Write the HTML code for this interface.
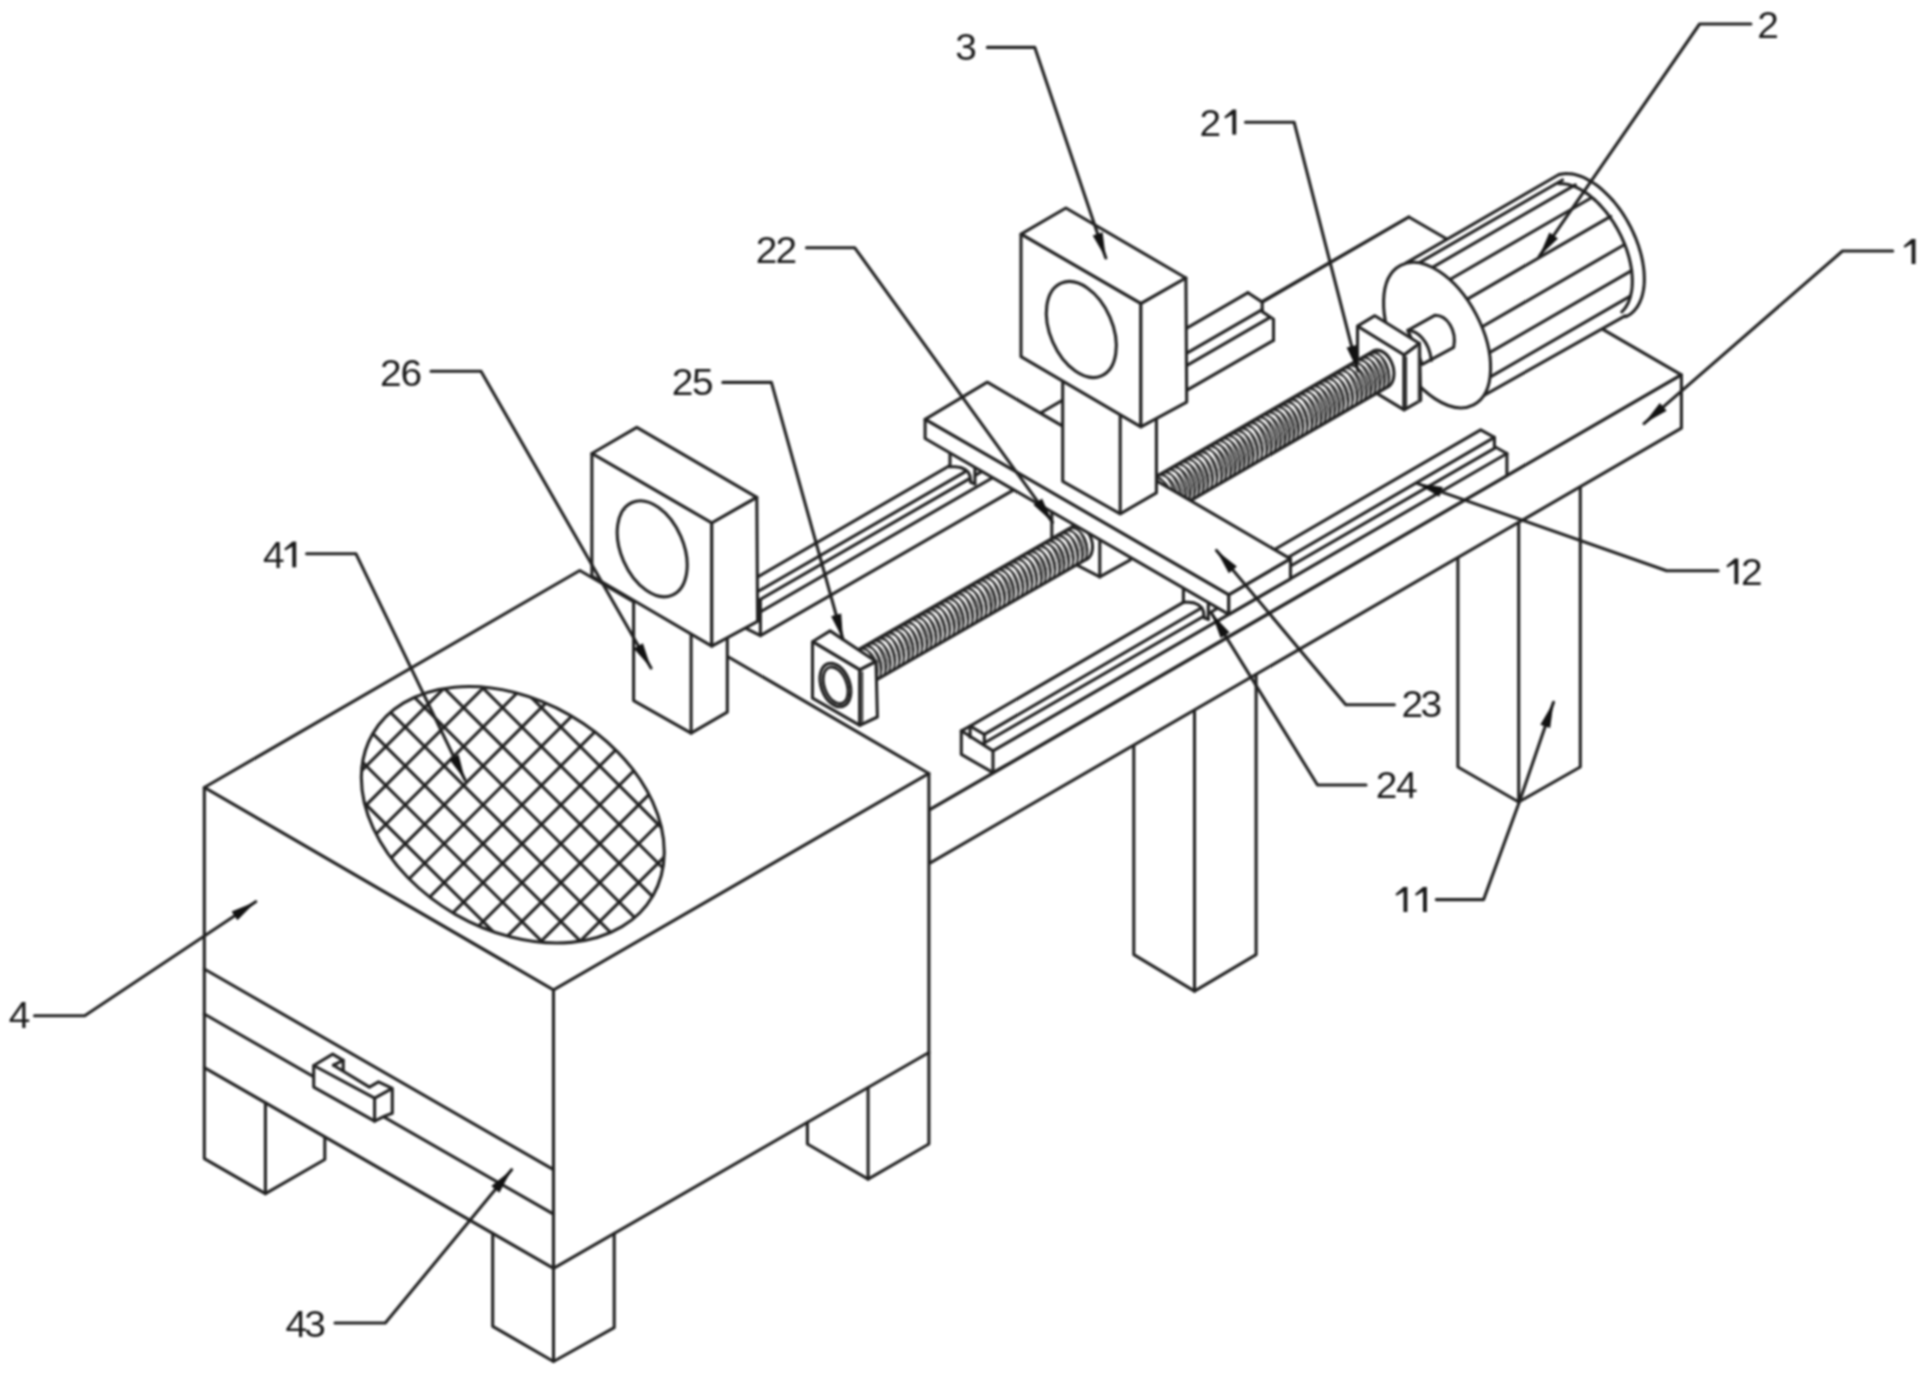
<!DOCTYPE html>
<html><head><meta charset="utf-8"><style>html,body{margin:0;padding:0;background:#fff;overflow:hidden}svg{display:block;filter:blur(1.1px)}</style></head>
<body>
<svg width="1925" height="1375" viewBox="0 0 1925 1375" stroke-linejoin="round" stroke-linecap="round">
<polyline points="1133.8,745.1 1133.8,954.7 1194.5,991.2 1256.1,954.7 1256.1,674.3" fill="none" stroke="#222" stroke-width="3.1"/>
<polyline points="1194.5,710.0 1194.5,991.2" fill="none" stroke="#222" stroke-width="3.1"/>
<polyline points="1457.9,557.5 1457.9,767.0 1518.7,802.0 1580.3,767.0 1580.3,486.7" fill="none" stroke="#222" stroke-width="3.1"/>
<polyline points="1518.7,522.4 1518.7,802.0" fill="none" stroke="#222" stroke-width="3.1"/>
<polygon points="656.4,650.8 1408.8,217.0 1681.4,374.8 929.0,810.2" fill="#fff" stroke="#222" stroke-width="3.1"/>
<polygon points="929.0,810.2 1681.4,374.8 1681.4,428.2 929.0,863.6" fill="#fff" stroke="#222" stroke-width="3.1"/>
<polygon points="757.0,577.3 1248.0,292.7 1262.2,302.1 1262.2,311.6 1273.5,319.2 1273.5,340.4 757.0,635.6" fill="#fff" stroke="none"/>
<polyline points="757.0,577.3 1248.0,292.7" fill="none" stroke="#222" stroke-width="3.1"/>
<polyline points="757.0,601.4 1262.2,309.6" fill="none" stroke="#222" stroke-width="3.1"/>
<polyline points="757.0,613.8 1268.8,318.2" fill="none" stroke="#222" stroke-width="3.1"/>
<polyline points="760.4,635.6 1273.5,340.4" fill="none" stroke="#222" stroke-width="3.1"/>
<polyline points="757.0,592.0 965.0,471.9" fill="none" stroke="#222" stroke-width="3.1"/>
<polyline points="1248.0,292.7 1262.2,302.1 1262.2,311.6 1273.5,319.2 1273.5,340.4" fill="none" stroke="#222" stroke-width="3.1"/>
<polyline points="744.4,627.6 760.4,635.6 760.4,600.0" fill="none" stroke="#222" stroke-width="3.1"/>
<polyline points="1262.2,302.1 1408.8,217.0" fill="none" stroke="#222" stroke-width="3.1"/>
<polygon points="1399.8,265.8 1559.4,174.6 1561.6,174.1 1563.9,173.7 1566.3,173.6 1568.8,173.7 1571.3,173.9 1573.9,174.3 1576.5,175.0 1579.1,175.8 1581.8,176.7 1584.5,177.9 1587.2,179.3 1589.9,180.8 1592.6,182.5 1595.4,184.3 1598.1,186.3 1600.8,188.5 1603.4,190.8 1606.0,193.3 1608.6,195.9 1611.2,198.6 1613.7,201.4 1616.1,204.4 1618.5,207.5 1620.8,210.7 1623.0,213.9 1625.1,217.3 1627.2,220.7 1629.1,224.2 1631.0,227.8 1632.7,231.4 1634.3,235.0 1635.9,238.7 1637.3,242.4 1638.6,246.1 1639.7,249.8 1640.8,253.4 1641.7,257.1 1642.5,260.8 1643.1,264.4 1643.6,267.9 1644.0,271.4 1644.2,274.9 1644.3,278.2 1644.3,281.5 1644.1,284.7 1643.8,287.8 1643.3,290.8 1642.7,293.6 1642.0,296.4 1641.1,299.0 1640.1,301.5 1639.0,303.8 1637.8,306.0 1636.4,308.0 1634.9,309.9 1633.3,311.6 1631.6,313.2 1629.8,314.5 1627.9,315.7 1625.9,316.7 1472.9,401.6" fill="#fff" stroke="none"/>
<polyline points="1559.4,174.6 1561.6,174.1 1563.9,173.7 1566.3,173.6 1568.8,173.7 1571.3,173.9 1573.9,174.3 1576.5,175.0 1579.1,175.8 1581.8,176.7 1584.5,177.9 1587.2,179.3 1589.9,180.8 1592.6,182.5 1595.4,184.3 1598.1,186.3 1600.8,188.5 1603.4,190.8 1606.0,193.3 1608.6,195.9 1611.2,198.6 1613.7,201.4 1616.1,204.4 1618.5,207.5 1620.8,210.7 1623.0,213.9 1625.1,217.3 1627.2,220.7 1629.1,224.2 1631.0,227.8 1632.7,231.4 1634.3,235.0 1635.9,238.7 1637.3,242.4 1638.6,246.1 1639.7,249.8 1640.8,253.4 1641.7,257.1 1642.5,260.8 1643.1,264.4 1643.6,267.9 1644.0,271.4 1644.2,274.9 1644.3,278.2 1644.3,281.5 1644.1,284.7 1643.8,287.8 1643.3,290.8 1642.7,293.6 1642.0,296.4 1641.1,299.0 1640.1,301.5 1639.0,303.8 1637.8,306.0 1636.4,308.0 1634.9,309.9 1633.3,311.6 1631.6,313.2 1629.8,314.5 1627.9,315.7 1625.9,316.7" fill="none" stroke="#222" stroke-width="3.1"/>
<polyline points="1558.7,183.7 1560.7,183.6 1562.7,183.7 1564.8,183.9 1567.0,184.3 1569.1,184.8 1571.3,185.4 1573.5,186.2 1575.8,187.1 1578.0,188.2 1580.3,189.3 1582.6,190.7 1584.8,192.1 1587.1,193.6 1589.3,195.3 1591.6,197.1 1593.8,199.0 1596.0,201.0 1598.2,203.1 1600.3,205.4 1602.4,207.7 1604.4,210.1 1606.5,212.5 1608.4,215.1 1610.3,217.8 1612.2,220.5 1614.0,223.2 1615.7,226.1 1617.4,229.0 1618.9,231.9 1620.5,234.9 1621.9,237.9 1623.2,240.9 1624.5,243.9 1625.7,247.0 1626.8,250.1 1627.8,253.2 1628.7,256.2 1629.5,259.3 1630.2,262.3 1630.8,265.4 1631.3,268.3 1631.7,271.3 1632.0,274.2 1632.2,277.1 1632.3,279.9 1632.3,282.6 1632.2,285.3 1632.0,287.9 1631.7,290.5 1631.2,292.9 1630.7,295.3 1630.1,297.6 1629.4,299.7 1628.6,301.8 1627.7,303.8 1626.7,305.6 1625.6,307.4 1624.4,309.0 1623.1,310.5 1621.8,311.9" fill="none" stroke="#222" stroke-width="3.1"/>
<polyline points="1406.2,262.9 1559.0,174.5" fill="none" stroke="#222" stroke-width="3.1"/>
<polyline points="1472.9,401.6 1625.1,315.8" fill="none" stroke="#222" stroke-width="3.1"/>
<polyline points="1408.0,269.2 1562.5,180.0" fill="none" stroke="#222" stroke-width="3.1"/>
<polyline points="1426.0,271.1 1575.3,184.9" fill="none" stroke="#222" stroke-width="3.1"/>
<polyline points="1443.0,283.5 1591.0,198.0" fill="none" stroke="#222" stroke-width="3.1"/>
<polyline points="1458.7,304.1 1610.7,216.3" fill="none" stroke="#222" stroke-width="3.1"/>
<polyline points="1473.1,332.0 1623.8,245.0" fill="none" stroke="#222" stroke-width="3.1"/>
<polyline points="1478.3,359.1 1631.6,270.6" fill="none" stroke="#222" stroke-width="3.1"/>
<polyline points="1478.3,383.9 1630.3,296.1" fill="none" stroke="#222" stroke-width="3.1"/>
<ellipse cx="1437.1" cy="335.1" rx="44.2" ry="78.7" transform="rotate(-27.6 1437.1 335.1)" fill="#fff" stroke="#222" stroke-width="3.1"/>
<path d="M1407.9,330.3 L1434.7,315.3 C1447,315 1457,330 1453.7,347.3 L1422.3,364.3 Z" fill="#fff" stroke="#222" stroke-width="3.1"/>
<path d="M1407.9,330.3 C1417,331 1429,340 1431.4,360.4" fill="none" stroke="#222" stroke-width="3.1"/>
<polygon points="1357.5,326.2 1374.9,315.7 1419.5,343.5 1404.1,355.0" fill="#fff" stroke="#222" stroke-width="3.1"/>
<polygon points="1357.5,326.2 1404.1,355.0 1404.1,409.8 1357.5,381.7" fill="#fff" stroke="#222" stroke-width="3.1"/>
<polygon points="1404.1,355.0 1419.5,343.5 1420.7,400.4 1404.1,409.8" fill="#fff" stroke="#222" stroke-width="3.1"/>
<polyline points="1406.3,357.0 1406.3,408.0" fill="none" stroke="#222" stroke-width="1.6"/>
<polyline points="1418.3,346.0 1418.3,402.0" fill="none" stroke="#555" stroke-width="1.4"/>
<polygon points="961.3,730.8 970.1,726.2 1480.7,429.8 1494.4,437.3 1494.4,446.5 1506.9,453.5 1506.9,475.6 993.0,772.7 961.3,754.4" fill="#fff" stroke="#222" stroke-width="3.1"/>
<polyline points="961.3,730.8 993.0,750.9 993.0,772.7" fill="none" stroke="#222" stroke-width="3.1"/>
<polyline points="970.1,726.2 970.1,737.2" fill="none" stroke="#222" stroke-width="3.1"/>
<polyline points="970.1,726.2 984.3,734.3 984.3,743.0" fill="none" stroke="#222" stroke-width="3.1"/>
<polyline points="984.3,734.3 1494.4,437.3" fill="none" stroke="#222" stroke-width="3.1"/>
<polyline points="984.3,743.0 1494.4,448.4" fill="none" stroke="#222" stroke-width="3.1"/>
<polyline points="993.0,750.9 1506.9,453.5" fill="none" stroke="#222" stroke-width="3.1"/>
<polygon points="950.0,441.7 950.0,466.7 955.0,466.8 960.6,467.5 965.0,469.5 968.3,472.3 970.0,476.0 970.8,482.4 974.9,484.0 974.9,461.7" fill="#fff" stroke="none"/>
<polyline points="950.0,441.7 950.0,466.7" fill="none" stroke="#222" stroke-width="3.1"/>
<polyline points="950.0,466.7 955.0,466.8 960.6,467.5 965.0,469.5 968.3,472.3 970.0,476.0 970.8,482.4" fill="none" stroke="#222" stroke-width="3.1"/>
<polyline points="970.8,482.4 974.9,484.0" fill="none" stroke="#222" stroke-width="3.1"/>
<polyline points="974.9,484.0 974.9,468.7" fill="none" stroke="#222" stroke-width="3.1"/>
<polygon points="1183.4,577.1 1183.4,602.1 1188.4,602.2 1194.0,602.9 1198.4,604.9 1201.7,607.7 1203.4,611.4 1204.2,617.8 1208.3,619.4 1208.3,597.1" fill="#fff" stroke="none"/>
<polyline points="1183.4,577.1 1183.4,602.1" fill="none" stroke="#222" stroke-width="3.1"/>
<polyline points="1183.4,602.1 1188.4,602.2 1194.0,602.9 1198.4,604.9 1201.7,607.7 1203.4,611.4 1204.2,617.8" fill="none" stroke="#222" stroke-width="3.1"/>
<polyline points="1204.2,617.8 1208.3,619.4" fill="none" stroke="#222" stroke-width="3.1"/>
<polyline points="1208.3,619.4 1208.3,604.1" fill="none" stroke="#222" stroke-width="3.1"/>
<polygon points="1051.8,510.0 1051.8,537.3 1076.5,564.9 1099.8,576.9 1130.4,559.8 1130.4,540.0" fill="#fff" stroke="#222" stroke-width="3.1"/>
<polyline points="1099.8,540.2 1099.8,576.9" fill="none" stroke="#222" stroke-width="3.1"/>
<polygon points="1147.4,481.6 1373.4,351.1 1388.6,386.3 1162.6,516.8" fill="#fff" stroke="none"/>
<path d="M1147.4,481.6 A12.7,19.3 -18 0 1 1162.6,516.8 M1151.9,479.0 A12.7,19.3 -18 0 1 1167.1,514.2 M1156.5,476.3 A12.7,19.3 -18 0 1 1171.6,511.6 M1161.0,473.7 A12.7,19.3 -18 0 1 1176.1,509.0 M1165.5,471.1 A12.7,19.3 -18 0 1 1180.7,506.4 M1170.0,468.5 A12.7,19.3 -18 0 1 1185.2,503.8 M1174.5,465.9 A12.7,19.3 -18 0 1 1189.7,501.2 M1179.1,463.3 A12.7,19.3 -18 0 1 1194.2,498.6 M1183.6,460.7 A12.7,19.3 -18 0 1 1198.7,496.0 M1188.1,458.1 A12.7,19.3 -18 0 1 1203.3,493.3 M1192.6,455.5 A12.7,19.3 -18 0 1 1207.8,490.7 M1197.1,452.9 A12.7,19.3 -18 0 1 1212.3,488.1 M1201.7,450.2 A12.7,19.3 -18 0 1 1216.8,485.5 M1206.2,447.6 A12.7,19.3 -18 0 1 1221.3,482.9 M1210.7,445.0 A12.7,19.3 -18 0 1 1225.9,480.3 M1215.2,442.4 A12.7,19.3 -18 0 1 1230.4,477.7 M1219.7,439.8 A12.7,19.3 -18 0 1 1234.9,475.1 M1224.3,437.2 A12.7,19.3 -18 0 1 1239.4,472.5 M1228.8,434.6 A12.7,19.3 -18 0 1 1243.9,469.9 M1233.3,432.0 A12.7,19.3 -18 0 1 1248.5,467.2 M1237.8,429.4 A12.7,19.3 -18 0 1 1253.0,464.6 M1242.3,426.8 A12.7,19.3 -18 0 1 1257.5,462.0 M1246.9,424.1 A12.7,19.3 -18 0 1 1262.0,459.4 M1251.4,421.5 A12.7,19.3 -18 0 1 1266.5,456.8 M1255.9,418.9 A12.7,19.3 -18 0 1 1271.1,454.2 M1260.4,416.3 A12.7,19.3 -18 0 1 1275.6,451.6 M1264.9,413.7 A12.7,19.3 -18 0 1 1280.1,449.0 M1269.5,411.1 A12.7,19.3 -18 0 1 1284.6,446.4 M1274.0,408.5 A12.7,19.3 -18 0 1 1289.1,443.8 M1278.5,405.9 A12.7,19.3 -18 0 1 1293.7,441.1 M1283.0,403.3 A12.7,19.3 -18 0 1 1298.2,438.5 M1287.5,400.7 A12.7,19.3 -18 0 1 1302.7,435.9 M1292.1,398.0 A12.7,19.3 -18 0 1 1307.2,433.3 M1296.6,395.4 A12.7,19.3 -18 0 1 1311.7,430.7 M1301.1,392.8 A12.7,19.3 -18 0 1 1316.3,428.1 M1305.6,390.2 A12.7,19.3 -18 0 1 1320.8,425.5 M1310.1,387.6 A12.7,19.3 -18 0 1 1325.3,422.9 M1314.7,385.0 A12.7,19.3 -18 0 1 1329.8,420.3 M1319.2,382.4 A12.7,19.3 -18 0 1 1334.3,417.7 M1323.7,379.8 A12.7,19.3 -18 0 1 1338.9,415.0 M1328.2,377.2 A12.7,19.3 -18 0 1 1343.4,412.4 M1332.7,374.6 A12.7,19.3 -18 0 1 1347.9,409.8 M1337.3,371.9 A12.7,19.3 -18 0 1 1352.4,407.2 M1341.8,369.3 A12.7,19.3 -18 0 1 1356.9,404.6 M1346.3,366.7 A12.7,19.3 -18 0 1 1361.5,402.0 M1350.8,364.1 A12.7,19.3 -18 0 1 1366.0,399.4 M1355.3,361.5 A12.7,19.3 -18 0 1 1370.5,396.8 M1359.9,358.9 A12.7,19.3 -18 0 1 1375.0,394.2 M1364.4,356.3 A12.7,19.3 -18 0 1 1379.5,391.6 M1368.9,353.7 A12.7,19.3 -18 0 1 1384.1,388.9 M1373.4,351.1 A12.7,19.3 -18 0 1 1388.6,386.3" fill="none" stroke="#222" stroke-width="1.8"/>
<path d="M1149.7,480.3 A7.6,19.3 -18 0 1 1164.8,515.5 M1154.2,477.7 A7.6,19.3 -18 0 1 1169.4,512.9 M1158.7,475.0 A7.6,19.3 -18 0 1 1173.9,510.3 M1163.2,472.4 A7.6,19.3 -18 0 1 1178.4,507.7 M1167.8,469.8 A7.6,19.3 -18 0 1 1182.9,505.1 M1172.3,467.2 A7.6,19.3 -18 0 1 1187.4,502.5 M1176.8,464.6 A7.6,19.3 -18 0 1 1192.0,499.9 M1181.3,462.0 A7.6,19.3 -18 0 1 1196.5,497.3 M1185.8,459.4 A7.6,19.3 -18 0 1 1201.0,494.6 M1190.4,456.8 A7.6,19.3 -18 0 1 1205.5,492.0 M1194.9,454.2 A7.6,19.3 -18 0 1 1210.0,489.4 M1199.4,451.6 A7.6,19.3 -18 0 1 1214.6,486.8 M1203.9,448.9 A7.6,19.3 -18 0 1 1219.1,484.2 M1208.4,446.3 A7.6,19.3 -18 0 1 1223.6,481.6 M1213.0,443.7 A7.6,19.3 -18 0 1 1228.1,479.0 M1217.5,441.1 A7.6,19.3 -18 0 1 1232.6,476.4 M1222.0,438.5 A7.6,19.3 -18 0 1 1237.2,473.8 M1226.5,435.9 A7.6,19.3 -18 0 1 1241.7,471.2 M1231.0,433.3 A7.6,19.3 -18 0 1 1246.2,468.5 M1235.6,430.7 A7.6,19.3 -18 0 1 1250.7,465.9 M1240.1,428.1 A7.6,19.3 -18 0 1 1255.2,463.3 M1244.6,425.5 A7.6,19.3 -18 0 1 1259.8,460.7 M1249.1,422.8 A7.6,19.3 -18 0 1 1264.3,458.1 M1253.6,420.2 A7.6,19.3 -18 0 1 1268.8,455.5 M1258.2,417.6 A7.6,19.3 -18 0 1 1273.3,452.9 M1262.7,415.0 A7.6,19.3 -18 0 1 1277.8,450.3 M1267.2,412.4 A7.6,19.3 -18 0 1 1282.4,447.7 M1271.7,409.8 A7.6,19.3 -18 0 1 1286.9,445.1 M1276.2,407.2 A7.6,19.3 -18 0 1 1291.4,442.4 M1280.8,404.6 A7.6,19.3 -18 0 1 1295.9,439.8 M1285.3,402.0 A7.6,19.3 -18 0 1 1300.4,437.2 M1289.8,399.4 A7.6,19.3 -18 0 1 1305.0,434.6 M1294.3,396.7 A7.6,19.3 -18 0 1 1309.5,432.0 M1298.8,394.1 A7.6,19.3 -18 0 1 1314.0,429.4 M1303.4,391.5 A7.6,19.3 -18 0 1 1318.5,426.8 M1307.9,388.9 A7.6,19.3 -18 0 1 1323.0,424.2 M1312.4,386.3 A7.6,19.3 -18 0 1 1327.6,421.6 M1316.9,383.7 A7.6,19.3 -18 0 1 1332.1,419.0 M1321.4,381.1 A7.6,19.3 -18 0 1 1336.6,416.3 M1326.0,378.5 A7.6,19.3 -18 0 1 1341.1,413.7 M1330.5,375.9 A7.6,19.3 -18 0 1 1345.6,411.1 M1335.0,373.3 A7.6,19.3 -18 0 1 1350.2,408.5 M1339.5,370.6 A7.6,19.3 -18 0 1 1354.7,405.9 M1344.0,368.0 A7.6,19.3 -18 0 1 1359.2,403.3 M1348.6,365.4 A7.6,19.3 -18 0 1 1363.7,400.7 M1353.1,362.8 A7.6,19.3 -18 0 1 1368.2,398.1 M1357.6,360.2 A7.6,19.3 -18 0 1 1372.8,395.5 M1362.1,357.6 A7.6,19.3 -18 0 1 1377.3,392.9 M1366.6,355.0 A7.6,19.3 -18 0 1 1381.8,390.2 M1371.2,352.4 A7.6,19.3 -18 0 1 1386.3,387.6" fill="none" stroke="#333" stroke-width="1.8"/>
<polyline points="1147.4,481.6 1373.4,351.1" fill="none" stroke="#222" stroke-width="3.1"/>
<polyline points="1162.6,516.8 1388.6,386.3" fill="none" stroke="#222" stroke-width="3.1"/>
<path d="M1373.4,351.1 A12.7,19.3 -18 0 1 1388.6,386.3" fill="none" stroke="#222" stroke-width="3.1"/>
<polygon points="858.0,649.9 1073.0,526.4 1087.0,559.0 872.0,682.5" fill="#fff" stroke="none"/>
<path d="M858.0,649.9 A11.8,17.8 -18 0 1 872.0,682.5 M862.6,647.3 A11.8,17.8 -18 0 1 876.6,679.8 M867.1,644.7 A11.8,17.8 -18 0 1 881.2,677.2 M871.7,642.1 A11.8,17.8 -18 0 1 885.7,674.6 M876.3,639.4 A11.8,17.8 -18 0 1 890.3,671.9 M880.9,636.8 A11.8,17.8 -18 0 1 894.9,669.3 M885.4,634.2 A11.8,17.8 -18 0 1 899.4,666.7 M890.0,631.5 A11.8,17.8 -18 0 1 904.0,664.1 M894.6,628.9 A11.8,17.8 -18 0 1 908.6,661.4 M899.2,626.3 A11.8,17.8 -18 0 1 913.2,658.8 M903.7,623.7 A11.8,17.8 -18 0 1 917.7,656.2 M908.3,621.0 A11.8,17.8 -18 0 1 922.3,653.6 M912.9,618.4 A11.8,17.8 -18 0 1 926.9,650.9 M917.5,615.8 A11.8,17.8 -18 0 1 931.5,648.3 M922.0,613.2 A11.8,17.8 -18 0 1 936.0,645.7 M926.6,610.5 A11.8,17.8 -18 0 1 940.6,643.0 M931.2,607.9 A11.8,17.8 -18 0 1 945.2,640.4 M935.8,605.3 A11.8,17.8 -18 0 1 949.8,637.8 M940.3,602.6 A11.8,17.8 -18 0 1 954.3,635.2 M944.9,600.0 A11.8,17.8 -18 0 1 958.9,632.5 M949.5,597.4 A11.8,17.8 -18 0 1 963.5,629.9 M954.1,594.8 A11.8,17.8 -18 0 1 968.1,627.3 M958.6,592.1 A11.8,17.8 -18 0 1 972.6,624.7 M963.2,589.5 A11.8,17.8 -18 0 1 977.2,622.0 M967.8,586.9 A11.8,17.8 -18 0 1 981.8,619.4 M972.4,584.2 A11.8,17.8 -18 0 1 986.4,616.8 M976.9,581.6 A11.8,17.8 -18 0 1 990.9,614.1 M981.5,579.0 A11.8,17.8 -18 0 1 995.5,611.5 M986.1,576.4 A11.8,17.8 -18 0 1 1000.1,608.9 M990.7,573.7 A11.8,17.8 -18 0 1 1004.7,606.3 M995.2,571.1 A11.8,17.8 -18 0 1 1009.2,603.6 M999.8,568.5 A11.8,17.8 -18 0 1 1013.8,601.0 M1004.4,565.9 A11.8,17.8 -18 0 1 1018.4,598.4 M1009.0,563.2 A11.8,17.8 -18 0 1 1023.0,595.7 M1013.5,560.6 A11.8,17.8 -18 0 1 1027.5,593.1 M1018.1,558.0 A11.8,17.8 -18 0 1 1032.1,590.5 M1022.7,555.3 A11.8,17.8 -18 0 1 1036.7,587.9 M1027.3,552.7 A11.8,17.8 -18 0 1 1041.3,585.2 M1031.8,550.1 A11.8,17.8 -18 0 1 1045.8,582.6 M1036.4,547.5 A11.8,17.8 -18 0 1 1050.4,580.0 M1041.0,544.8 A11.8,17.8 -18 0 1 1055.0,577.4 M1045.6,542.2 A11.8,17.8 -18 0 1 1059.6,574.7 M1050.1,539.6 A11.8,17.8 -18 0 1 1064.1,572.1 M1054.7,537.0 A11.8,17.8 -18 0 1 1068.7,569.5 M1059.3,534.3 A11.8,17.8 -18 0 1 1073.3,566.8 M1063.8,531.7 A11.8,17.8 -18 0 1 1077.9,564.2 M1068.4,529.1 A11.8,17.8 -18 0 1 1082.4,561.6 M1073.0,526.4 A11.8,17.8 -18 0 1 1087.0,559.0" fill="none" stroke="#222" stroke-width="1.8"/>
<path d="M860.3,648.6 A7.0,17.8 -18 0 1 874.3,681.1 M864.9,646.0 A7.0,17.8 -18 0 1 878.9,678.5 M869.4,643.4 A7.0,17.8 -18 0 1 883.4,675.9 M874.0,640.7 A7.0,17.8 -18 0 1 888.0,673.3 M878.6,638.1 A7.0,17.8 -18 0 1 892.6,670.6 M883.2,635.5 A7.0,17.8 -18 0 1 897.2,668.0 M887.7,632.9 A7.0,17.8 -18 0 1 901.7,665.4 M892.3,630.2 A7.0,17.8 -18 0 1 906.3,662.8 M896.9,627.6 A7.0,17.8 -18 0 1 910.9,660.1 M901.5,625.0 A7.0,17.8 -18 0 1 915.5,657.5 M906.0,622.4 A7.0,17.8 -18 0 1 920.0,654.9 M910.6,619.7 A7.0,17.8 -18 0 1 924.6,652.2 M915.2,617.1 A7.0,17.8 -18 0 1 929.2,649.6 M919.8,614.5 A7.0,17.8 -18 0 1 933.8,647.0 M924.3,611.8 A7.0,17.8 -18 0 1 938.3,644.4 M928.9,609.2 A7.0,17.8 -18 0 1 942.9,641.7 M933.5,606.6 A7.0,17.8 -18 0 1 947.5,639.1 M938.1,604.0 A7.0,17.8 -18 0 1 952.1,636.5 M942.6,601.3 A7.0,17.8 -18 0 1 956.6,633.8 M947.2,598.7 A7.0,17.8 -18 0 1 961.2,631.2 M951.8,596.1 A7.0,17.8 -18 0 1 965.8,628.6 M956.3,593.4 A7.0,17.8 -18 0 1 970.4,626.0 M960.9,590.8 A7.0,17.8 -18 0 1 974.9,623.3 M965.5,588.2 A7.0,17.8 -18 0 1 979.5,620.7 M970.1,585.6 A7.0,17.8 -18 0 1 984.1,618.1 M974.6,582.9 A7.0,17.8 -18 0 1 988.7,615.5 M979.2,580.3 A7.0,17.8 -18 0 1 993.2,612.8 M983.8,577.7 A7.0,17.8 -18 0 1 997.8,610.2 M988.4,575.1 A7.0,17.8 -18 0 1 1002.4,607.6 M992.9,572.4 A7.0,17.8 -18 0 1 1006.9,604.9 M997.5,569.8 A7.0,17.8 -18 0 1 1011.5,602.3 M1002.1,567.2 A7.0,17.8 -18 0 1 1016.1,599.7 M1006.7,564.5 A7.0,17.8 -18 0 1 1020.7,597.1 M1011.2,561.9 A7.0,17.8 -18 0 1 1025.2,594.4 M1015.8,559.3 A7.0,17.8 -18 0 1 1029.8,591.8 M1020.4,556.7 A7.0,17.8 -18 0 1 1034.4,589.2 M1025.0,554.0 A7.0,17.8 -18 0 1 1039.0,586.5 M1029.5,551.4 A7.0,17.8 -18 0 1 1043.5,583.9 M1034.1,548.8 A7.0,17.8 -18 0 1 1048.1,581.3 M1038.7,546.1 A7.0,17.8 -18 0 1 1052.7,578.7 M1043.3,543.5 A7.0,17.8 -18 0 1 1057.3,576.0 M1047.8,540.9 A7.0,17.8 -18 0 1 1061.8,573.4 M1052.4,538.3 A7.0,17.8 -18 0 1 1066.4,570.8 M1057.0,535.6 A7.0,17.8 -18 0 1 1071.0,568.2 M1061.6,533.0 A7.0,17.8 -18 0 1 1075.6,565.5 M1066.1,530.4 A7.0,17.8 -18 0 1 1080.1,562.9 M1070.7,527.8 A7.0,17.8 -18 0 1 1084.7,560.3" fill="none" stroke="#333" stroke-width="1.8"/>
<polyline points="858.0,649.9 1073.0,526.4" fill="none" stroke="#222" stroke-width="3.1"/>
<polyline points="872.0,682.5 1087.0,559.0" fill="none" stroke="#222" stroke-width="3.1"/>
<path d="M1073.0,526.4 A11.8,17.8 -18 0 1 1087.0,559.0" fill="none" stroke="#222" stroke-width="3.1"/>
<polygon points="812.5,641.7 830.1,630.9 876.0,661.5 859.8,669.8" fill="#fff" stroke="#222" stroke-width="3.1"/>
<polygon points="812.5,641.7 859.8,669.8 859.8,725.4 812.5,698.2" fill="#fff" stroke="#222" stroke-width="3.1"/>
<polygon points="859.8,669.8 876.0,661.5 877.4,717.0 859.8,725.4" fill="#fff" stroke="#222" stroke-width="3.1"/>
<polyline points="862.4,672.0 862.4,723.0" fill="none" stroke="#222" stroke-width="1.6"/>
<ellipse cx="835.4" cy="685.0" rx="14.3" ry="22.6" transform="rotate(-20.0 835.4 685.0)" fill="none" stroke="#222" stroke-width="3.0"/>
<ellipse cx="835.6" cy="685.3" rx="11.2" ry="19.0" transform="rotate(-20.0 835.6 685.3)" fill="none" stroke="#222" stroke-width="2.8"/>
<polygon points="925.1,419.3 987.3,382.2 1290.5,558.9 1228.8,594.8" fill="#fff" stroke="#222" stroke-width="3.1"/>
<polygon points="925.1,419.3 1228.8,594.8 1228.8,614.3 925.1,438.5" fill="#fff" stroke="#222" stroke-width="3.1"/>
<polygon points="1228.8,594.8 1290.5,558.9 1290.5,578.8 1228.8,614.3" fill="#fff" stroke="#222" stroke-width="3.1"/>
<polygon points="1062.7,334.2 1062.7,481.3 1120.2,513.8 1156.4,492.9 1156.4,384.2 1120.2,384.2" fill="#fff" stroke="#222" stroke-width="3.1"/>
<polyline points="1120.2,384.2 1120.2,513.8" fill="none" stroke="#222" stroke-width="3.1"/>
<polygon points="1021.0,234.2 1065.9,208.0 1185.9,278.0 1140.9,303.7" fill="#fff" stroke="#222" stroke-width="3.1"/>
<polygon points="1021.0,234.2 1140.9,303.7 1140.9,426.8 1021.0,356.7" fill="#fff" stroke="#222" stroke-width="3.1"/>
<polygon points="1140.9,303.7 1185.9,278.0 1186.7,402.1 1140.9,426.8" fill="#fff" stroke="#222" stroke-width="3.1"/>
<ellipse cx="1081.3" cy="329.5" rx="31.2" ry="50.5" transform="rotate(-23.5 1081.3 329.5)" fill="none" stroke="#222" stroke-width="3.1"/>
<polygon points="204.3,787.5 579.8,570.5 928.9,773.5 553.5,990.0" fill="#fff" stroke="#222" stroke-width="3.1"/>
<polygon points="204.3,787.5 553.5,990.0 553.5,1268.3 204.3,1067.6" fill="#fff" stroke="#222" stroke-width="3.1"/>
<polygon points="553.5,990.0 928.9,773.5 928.9,1052.5 553.5,1268.3" fill="#fff" stroke="#222" stroke-width="3.1"/>
<polyline points="204.3,969.0 553.5,1169.7" fill="none" stroke="#222" stroke-width="3.1"/>
<polyline points="204.3,1014.0 553.5,1214.2" fill="none" stroke="#222" stroke-width="3.1"/>
<polyline points="204.3,1067.6 204.3,1158.6 265.4,1193.7 324.8,1159.5 324.8,1137.5" fill="none" stroke="#222" stroke-width="3.1"/>
<polyline points="265.4,1102.7 265.4,1193.7" fill="none" stroke="#222" stroke-width="3.1"/>
<polyline points="492.7,1233.3 492.7,1326.3 553.5,1361.5 614.2,1327.7 614.2,1233.4" fill="none" stroke="#222" stroke-width="3.1"/>
<polyline points="553.5,1268.3 553.5,1361.5" fill="none" stroke="#222" stroke-width="3.1"/>
<polyline points="807.4,1122.4 807.4,1144.0 868.1,1179.1 928.9,1144.0 928.9,1052.5" fill="none" stroke="#222" stroke-width="3.1"/>
<polyline points="868.1,1087.5 868.1,1179.1" fill="none" stroke="#222" stroke-width="3.1"/>
<polygon points="313.7,1065.5 332.7,1054.1 343.2,1060.3 378.5,1081.9 392.3,1088.4 392.3,1113.3 385.1,1115.9 374.6,1121.2 313.7,1087.1" fill="#fff" stroke="none"/>
<polyline points="313.7,1065.5 332.7,1054.1 343.2,1060.3 343.2,1070.1" fill="none" stroke="#222" stroke-width="3.1"/>
<polyline points="333.4,1065.2 343.2,1060.3" fill="none" stroke="#222" stroke-width="3.1"/>
<polyline points="333.4,1065.2 369.4,1087.1 378.5,1081.9 392.3,1088.4 374.6,1098.2 313.7,1065.5 313.7,1087.1 374.6,1121.2 385.1,1115.9 392.3,1113.3 392.3,1088.4" fill="none" stroke="#222" stroke-width="3.1"/>
<polyline points="374.6,1098.2 374.6,1121.2" fill="none" stroke="#222" stroke-width="3.1"/>
<clipPath id="ec"><ellipse cx="512.8" cy="814.75" rx="161.8" ry="114.9" transform="rotate(30 512.8 814.75)"/></clipPath>
<g clip-path="url(#ec)" stroke="#222" stroke-width="3.1"><line x1="300" y1="1049.7" x2="700" y2="1449.7"/><line x1="300" y1="1010.8" x2="700" y2="1410.8"/><line x1="300" y1="971.9" x2="700" y2="1371.9"/><line x1="300" y1="933.0" x2="700" y2="1333.0"/><line x1="300" y1="894.1" x2="700" y2="1294.1"/><line x1="300" y1="855.2" x2="700" y2="1255.2"/><line x1="300" y1="816.3" x2="700" y2="1216.3"/><line x1="300" y1="777.4" x2="700" y2="1177.4"/><line x1="300" y1="738.5" x2="700" y2="1138.5"/><line x1="300" y1="699.6" x2="700" y2="1099.6"/><line x1="300" y1="660.7" x2="700" y2="1060.7"/><line x1="300" y1="621.8" x2="700" y2="1021.8"/><line x1="300" y1="582.9" x2="700" y2="982.9"/><line x1="300" y1="544.0" x2="700" y2="944.0"/><line x1="300" y1="505.1" x2="700" y2="905.1"/><line x1="300" y1="466.2" x2="700" y2="866.2"/><line x1="300" y1="427.3" x2="700" y2="827.3"/><line x1="300" y1="388.4" x2="700" y2="788.4"/><line x1="300" y1="349.5" x2="700" y2="749.5"/><line x1="300" y1="310.6" x2="700" y2="710.6"/><line x1="300" y1="271.7" x2="700" y2="671.7"/><line x1="300" y1="232.8" x2="700" y2="632.8"/><line x1="300" y1="193.9" x2="700" y2="593.9"/><line x1="300" y1="155.0" x2="700" y2="555.0"/><line x1="300" y1="443.3" x2="700" y2="43.3"/><line x1="300" y1="482.2" x2="700" y2="82.2"/><line x1="300" y1="521.1" x2="700" y2="121.1"/><line x1="300" y1="560.0" x2="700" y2="160.0"/><line x1="300" y1="598.9" x2="700" y2="198.9"/><line x1="300" y1="637.8" x2="700" y2="237.8"/><line x1="300" y1="676.7" x2="700" y2="276.7"/><line x1="300" y1="715.6" x2="700" y2="315.6"/><line x1="300" y1="754.5" x2="700" y2="354.5"/><line x1="300" y1="793.4" x2="700" y2="393.4"/><line x1="300" y1="832.3" x2="700" y2="432.3"/><line x1="300" y1="871.2" x2="700" y2="471.2"/><line x1="300" y1="910.1" x2="700" y2="510.1"/><line x1="300" y1="949.0" x2="700" y2="549.0"/><line x1="300" y1="987.9" x2="700" y2="587.9"/><line x1="300" y1="1026.8" x2="700" y2="626.8"/><line x1="300" y1="1065.7" x2="700" y2="665.7"/><line x1="300" y1="1104.6" x2="700" y2="704.6"/><line x1="300" y1="1143.5" x2="700" y2="743.5"/><line x1="300" y1="1182.4" x2="700" y2="782.4"/><line x1="300" y1="1221.3" x2="700" y2="821.3"/><line x1="300" y1="1260.2" x2="700" y2="860.2"/><line x1="300" y1="1299.1" x2="700" y2="899.1"/><line x1="300" y1="1338.0" x2="700" y2="938.0"/></g>
<ellipse cx="512.8" cy="814.8" rx="161.8" ry="114.9" transform="rotate(30.0 512.8 814.8)" fill="none" stroke="#222" stroke-width="3.1"/>
<polygon points="633.6,553.5 633.6,700.6 691.1,733.1 727.3,712.2 727.3,603.5 691.1,603.5" fill="#fff" stroke="#222" stroke-width="3.1"/>
<polyline points="691.1,603.5 691.1,733.1" fill="none" stroke="#222" stroke-width="3.1"/>
<polygon points="591.9,453.5 636.8,427.3 756.8,497.3 711.8,523.0" fill="#fff" stroke="#222" stroke-width="3.1"/>
<polygon points="591.9,453.5 711.8,523.0 711.8,646.1 591.9,576.0" fill="#fff" stroke="#222" stroke-width="3.1"/>
<polygon points="711.8,523.0 756.8,497.3 757.6,621.4 711.8,646.1" fill="#fff" stroke="#222" stroke-width="3.1"/>
<ellipse cx="652.2" cy="548.8" rx="31.2" ry="50.5" transform="rotate(-23.5 652.2 548.8)" fill="none" stroke="#222" stroke-width="3.1"/>
<text transform="translate(1757.2,38.1) scale(1.08,1.02)" font-family="Liberation Sans" font-size="36" fill="#1a1a1a">2</text>
<polyline points="1750.9,24.0 1699.6,24.0 1539.2,256.4" fill="none" stroke="#222" stroke-width="3.1"/>
<polygon points="1539.2,256.4 1549.4,232.4 1558.0,238.4" fill="#111" stroke="none"/>
<rect x="1911.6" y="239.0" width="3.9" height="25.0" fill="#1a1a1a"/>
<polygon points="1911.6,239.0 1915.5,239.0 1912.6,243.2 1904.6,247.8 1903.6,246.0" fill="#1a1a1a"/>
<polyline points="1892.7,251.0 1842.5,251.0 1644.0,423.6" fill="none" stroke="#222" stroke-width="3.1"/>
<polygon points="1644.0,423.6 1659.8,402.9 1666.7,410.8" fill="#111" stroke="none"/>
<text transform="translate(955.3,59.6) scale(1.08,1.02)" font-family="Liberation Sans" font-size="36" fill="#1a1a1a">3</text>
<polyline points="987.4,47.4 1034.8,47.4 1105.8,258.0" fill="none" stroke="#222" stroke-width="3.1"/>
<polygon points="1105.8,258.0 1092.7,235.5 1102.6,232.2" fill="#111" stroke="none"/>
<text transform="translate(1199.4,135.6) scale(1.08,1.02)" font-family="Liberation Sans" font-size="36" fill="#1a1a1a">2</text>
<rect x="1232.3" y="109.7" width="3.9" height="24.9" fill="#1a1a1a"/>
<polygon points="1232.3,109.7 1236.2,109.7 1233.3,113.9 1225.3,118.5 1224.3,116.7" fill="#1a1a1a"/>
<polyline points="1245.5,122.2 1294.1,122.2 1358.0,371.0" fill="none" stroke="#222" stroke-width="3.1"/>
<polygon points="1358.0,371.0 1346.6,347.6 1356.7,345.0" fill="#111" stroke="none"/>
<text transform="translate(755.8,262.6) scale(1.08,1.02)" font-family="Liberation Sans" font-size="36" fill="#1a1a1a">2</text>
<text transform="translate(775.5,262.6) scale(1.08,1.02)" font-family="Liberation Sans" font-size="36" fill="#1a1a1a">2</text>
<polyline points="806.5,247.8 854.8,247.8 1052.6,522.3" fill="none" stroke="#222" stroke-width="3.1"/>
<polygon points="1052.6,522.3 1033.4,504.7 1042.0,498.5" fill="#111" stroke="none"/>
<text transform="translate(380.0,385.9) scale(1.08,1.02)" font-family="Liberation Sans" font-size="36" fill="#1a1a1a">2</text>
<text transform="translate(400.5,385.9) scale(1.08,1.02)" font-family="Liberation Sans" font-size="36" fill="#1a1a1a">6</text>
<polyline points="431.0,371.2 481.0,371.2 651.0,668.0" fill="none" stroke="#222" stroke-width="3.1"/>
<polygon points="651.0,668.0 633.8,648.5 642.9,643.3" fill="#111" stroke="none"/>
<text transform="translate(671.8,394.6) scale(1.08,1.02)" font-family="Liberation Sans" font-size="36" fill="#1a1a1a">2</text>
<text transform="translate(691.9,394.6) scale(1.08,1.02)" font-family="Liberation Sans" font-size="36" fill="#1a1a1a">5</text>
<polyline points="722.8,382.4 771.4,382.4 843.0,639.5" fill="none" stroke="#222" stroke-width="3.1"/>
<polygon points="843.0,639.5 831.1,616.3 841.2,613.5" fill="#111" stroke="none"/>
<text transform="translate(262.9,568.3) scale(1.08,1.02)" font-family="Liberation Sans" font-size="36" fill="#1a1a1a">4</text>
<rect x="292.3" y="541.8" width="3.9" height="25.5" fill="#1a1a1a"/>
<polygon points="292.3,541.8 296.2,541.8 293.3,546.0 285.3,550.6 284.3,548.8" fill="#1a1a1a"/>
<polyline points="306.6,553.8 356.0,553.8 465.0,780.0" fill="none" stroke="#222" stroke-width="3.1"/>
<polygon points="465.0,780.0 449.2,759.3 458.7,754.7" fill="#111" stroke="none"/>
<text transform="translate(8.8,1028.2) scale(1.08,1.02)" font-family="Liberation Sans" font-size="36" fill="#1a1a1a">4</text>
<polyline points="34.5,1015.8 84.7,1015.8 255.7,901.7" fill="none" stroke="#222" stroke-width="3.1"/>
<polygon points="255.7,901.7 237.4,920.2 231.6,911.5" fill="#111" stroke="none"/>
<text transform="translate(285.4,1337.2) scale(1.08,1.02)" font-family="Liberation Sans" font-size="36" fill="#1a1a1a">4</text>
<text transform="translate(304.3,1337.2) scale(1.08,1.02)" font-family="Liberation Sans" font-size="36" fill="#1a1a1a">3</text>
<polyline points="335.0,1323.0 385.3,1323.0 511.6,1169.7" fill="none" stroke="#222" stroke-width="3.1"/>
<polygon points="511.6,1169.7 499.4,1192.7 491.3,1186.0" fill="#111" stroke="none"/>
<rect x="1734.4" y="558.7" width="3.9" height="25.3" fill="#1a1a1a"/>
<polygon points="1734.4,558.7 1738.3,558.7 1735.4,562.9 1727.4,567.5 1726.4,565.7" fill="#1a1a1a"/>
<text transform="translate(1741.1,585.0) scale(1.08,1.02)" font-family="Liberation Sans" font-size="36" fill="#1a1a1a">2</text>
<polyline points="1718.1,570.8 1666.6,570.8 1417.0,483.4" fill="none" stroke="#222" stroke-width="3.1"/>
<polygon points="1417.0,483.4 1442.8,486.9 1439.3,496.8" fill="#111" stroke="none"/>
<text transform="translate(1401.5,716.6) scale(1.08,1.02)" font-family="Liberation Sans" font-size="36" fill="#1a1a1a">2</text>
<text transform="translate(1420.6,716.6) scale(1.08,1.02)" font-family="Liberation Sans" font-size="36" fill="#1a1a1a">3</text>
<polyline points="1394.4,704.8 1345.8,704.8 1216.5,550.4" fill="none" stroke="#222" stroke-width="3.1"/>
<polygon points="1216.5,550.4 1236.9,566.6 1228.8,573.3" fill="#111" stroke="none"/>
<text transform="translate(1375.8,797.7) scale(1.08,1.02)" font-family="Liberation Sans" font-size="36" fill="#1a1a1a">2</text>
<text transform="translate(1396.0,797.7) scale(1.08,1.02)" font-family="Liberation Sans" font-size="36" fill="#1a1a1a">4</text>
<polyline points="1366.0,785.0 1317.5,785.0 1211.7,613.6" fill="none" stroke="#222" stroke-width="3.1"/>
<polygon points="1211.7,613.6 1229.6,632.5 1220.6,638.1" fill="#111" stroke="none"/>
<rect x="1403.5" y="887.0" width="3.9" height="25.0" fill="#1a1a1a"/>
<polygon points="1403.5,887.0 1407.4,887.0 1404.5,891.2 1396.5,895.8 1395.5,894.0" fill="#1a1a1a"/>
<rect x="1423.0" y="887.0" width="3.9" height="25.0" fill="#1a1a1a"/>
<polygon points="1423.0,887.0 1426.9,887.0 1424.0,891.2 1416.0,895.8 1415.0,894.0" fill="#1a1a1a"/>
<polyline points="1436.3,899.6 1483.6,899.6 1519.5,801.5 1553.5,702.3" fill="none" stroke="#222" stroke-width="3.1"/>
<polygon points="1553.5,702.3 1550.2,728.1 1540.3,724.7" fill="#111" stroke="none"/>
</svg>
</body></html>
